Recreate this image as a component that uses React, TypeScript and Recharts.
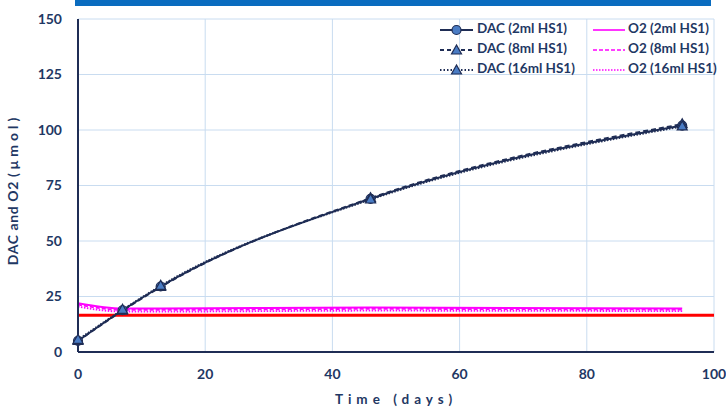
import React from "react";
import {
  LineChart,
  Line,
  XAxis,
  YAxis,
  CartesianGrid,
  ReferenceLine,
  Legend,
} from "recharts";

// sampling days
const days = [0, 7, 13, 46, 95];

// DAC (µmol) per HS1 dose
const dac2 = [5, 18.8, 29.5, 69, 102];
const dac8 = [5, 18.6, 29.3, 69.3, 102.6];
const dac16 = [5.5, 19, 29.8, 68.7, 101.6];

// O2 (µmol) per HS1 dose
const o2_2 = [22, 19.6, 19.6, 20, 19.6];
const o2_8 = [21.3, 19, 19, 19.4, 19.1];
const o2_16 = [20.4, 18.2, 18.2, 18.6, 18.4];

const o2Limit = 16.5;

const xTicks = [0, 20, 40, 60, 80, 100];
const yTicks = [0, 25, 50, 75, 100, 125, 150];

const data = days.map((d, i) => ({
  day: d,
  dac2: dac2[i],
  dac8: dac8[i],
  dac16: dac16[i],
  o2_2: o2_2[i],
  o2_8: o2_8[i],
  o2_16: o2_16[i],
}));

const NAVY = "#1f2d55";
const TEXT = "#1f3864";
const MARKER = "#4a7cc4";
const MAGENTA = "#ff00ff";
const FONT = "Lato, 'Open Sans', sans-serif";

const triangleDot = (p: any) => {
  const { cx, cy, key } = p;
  if (cx == null || cy == null) return <g key={key} />;
  return (
    <polygon
      key={key}
      points={`${cx},${cy - 5.5} ${cx - 5},${cy + 3.5} ${cx + 5},${cy + 3.5}`}
      fill={MARKER}
      stroke={NAVY}
      strokeWidth={1.2}
    />
  );
};

const circleDot = (p: any) => {
  const { cx, cy, key } = p;
  if (cx == null || cy == null) return <g key={key} />;
  return <circle key={key} cx={cx} cy={cy} r={4.5} fill={MARKER} stroke={NAVY} strokeWidth={1.2} />;
};

const legendLeft = [
  { name: "DAC (2ml HS1)", dash: undefined, mark: "circle" },
  { name: "DAC (8ml HS1)", dash: "4 3", mark: "tri" },
  { name: "DAC (16ml HS1)", dash: "1.5 2", mark: "tri" },
];
const legendRight = [
  { name: "O2 (2ml HS1)", dash: undefined },
  { name: "O2 (8ml HS1)", dash: "4 2" },
  { name: "O2 (16ml HS1)", dash: "1.5 1.5" },
];

function LegendBox() {
  return (
    <svg width={300} height={64}>
      {legendLeft.map((it, i) => {
        const y = 12 + i * 20;
        return (
          <g key={it.name}>
            <line x1={10} x2={43} y1={y} y2={y} stroke={NAVY} strokeWidth={2} strokeDasharray={it.dash} />
            {it.mark === "circle"
              ? circleDot({ cx: 26.5, cy: y })
              : triangleDot({ cx: 26.5, cy: y + 0.5 })}
            <text x={47} y={y} dominantBaseline="middle" fill={TEXT} fontFamily={FONT} fontWeight={700} fontSize={13.5}>
              {it.name}
            </text>
          </g>
        );
      })}
      {legendRight.map((it, i) => {
        const y = 12 + i * 20;
        return (
          <g key={it.name}>
            <line x1={163} x2={195} y1={y} y2={y} stroke={MAGENTA} strokeWidth={1.6} strokeDasharray={it.dash} />
            <text x={198} y={y} dominantBaseline="middle" fill={TEXT} fontFamily={FONT} fontWeight={700} fontSize={13.5}>
              {it.name}
            </text>
          </g>
        );
      })}
    </svg>
  );
}

const tickStyle = { fill: TEXT, fontFamily: FONT, fontWeight: 700, fontSize: 14 };

export default function App() {
  return (
    <div style={{ position: "absolute", left: 0, top: 0, width: 726, height: 410, background: "#fff" }}>
      <div style={{ position: "absolute", left: 75, top: 0, width: 636, height: 6, background: "#0a6cbf" }} />
      <LineChart
        width={726}
        height={410}
        data={data}
        margin={{ top: 19, right: 12, bottom: 18, left: 0 }}
      >
        <CartesianGrid stroke="#c9dcf0" strokeWidth={1} />
        <XAxis
          dataKey="day"
          type="number"
          domain={[0, 100]}
          ticks={xTicks}
          height={40}
          tickLine={false}
          tickSize={6}
          tickMargin={11}
          axisLine={{ stroke: NAVY, strokeWidth: 2 }}
          tick={tickStyle}
          label={{
            content: (p: any) => (
              <text
                x={p.viewBox.x + p.viewBox.width / 2}
                y={401}
                textAnchor="middle"
                dominantBaseline="middle"
                fill={TEXT}
                fontFamily={FONT}
                fontWeight={700}
                fontSize={13.5}
                letterSpacing={5}
              >
                Time (days)
              </text>
            ),
          }}
        />
        <YAxis
          type="number"
          domain={[0, 150]}
          ticks={yTicks}
          width={78}
          tickLine={false}
          tickSize={6}
          tickMargin={10}
          axisLine={{ stroke: NAVY, strokeWidth: 2 }}
          tick={tickStyle}
          label={{
            content: (p: any) => {
              const cy = p.viewBox.y + p.viewBox.height / 2 + 4;
              return (
                <text
                  x={14}
                  y={cy}
                  transform={`rotate(-90 14 ${cy})`}
                  textAnchor="middle"
                  dominantBaseline="middle"
                  fill={TEXT}
                  fontFamily={FONT}
                  fontWeight={700}
                  fontSize={14}
                  letterSpacing={0.6}
                >
                  DAC and O2 <tspan letterSpacing={4}>(μmol)</tspan>
                </text>
              );
            },
          }}
        />
        <ReferenceLine y={o2Limit} stroke="#ff0000" strokeWidth={3} />
        <Line type="monotone" dataKey="o2_2" stroke={MAGENTA} strokeWidth={2} dot={false} activeDot={false} isAnimationActive={false} />
        <Line type="monotone" dataKey="o2_8" stroke={MAGENTA} strokeWidth={1.8} strokeDasharray="4 2" dot={false} activeDot={false} isAnimationActive={false} />
        <Line type="monotone" dataKey="o2_16" stroke={MAGENTA} strokeWidth={1.8} strokeDasharray="1.5 1.5" dot={false} activeDot={false} isAnimationActive={false} />
        <Line type="monotone" dataKey="dac2" stroke={NAVY} strokeWidth={2} dot={circleDot} activeDot={false} isAnimationActive={false} />
        <Line type="monotone" dataKey="dac8" stroke={NAVY} strokeWidth={2} strokeDasharray="5 3" dot={triangleDot} activeDot={false} isAnimationActive={false} />
        <Line type="monotone" dataKey="dac16" stroke={NAVY} strokeWidth={2} strokeDasharray="1.5 1.5" dot={triangleDot} activeDot={false} isAnimationActive={false} />
        <Legend
          layout="horizontal"
          verticalAlign="middle"
          align="center"
          content={() => <LegendBox />}
          wrapperStyle={{ left: 430, top: 18, width: 300, height: 64 }}
        />
      </LineChart>
    </div>
  );
}
